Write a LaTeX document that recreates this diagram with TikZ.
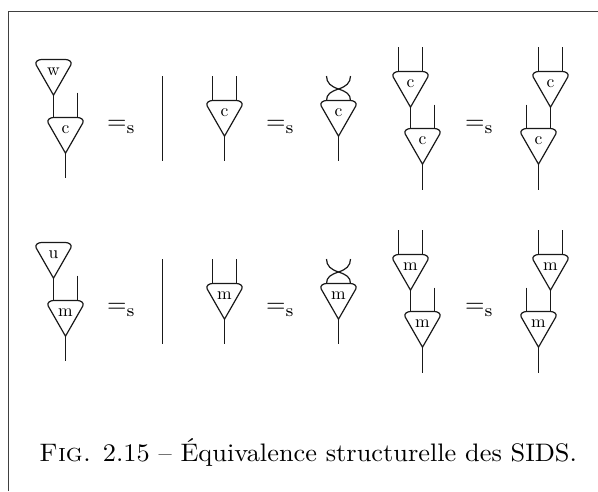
\documentclass[tikz,border=0pt]{standalone}
\tikzset{
  wire/.style={line width=1.2pt,black!90},
  framel/.style={line width=1pt,black!75},
  gate/.pic={
    \draw[wire] (-12,0) -- (12,0) .. controls (15,0) and (19,2) .. (17.3,5.5)
      -- (0,35.7) -- (-17.3,5.5) .. controls (-19,2) and (-15,0) .. cycle;
    \coordinate (-l) at (-12,0);
    \coordinate (-r) at (12,0);
    \coordinate (-o) at (0,35.7);
    \node[lab] (-t) at (0,16) {#1};
  },
  lab/.style={anchor=base,inner sep=0pt,scale=1.75},
  eqs/.style={anchor=base west,inner sep=0pt,scale=2.5},
  captext/.style={anchor=base west,inner sep=0pt,xscale=2.635,yscale=2.53}
}
\newcommand{\rowgates}[3]{%
  \begin{scope}[yshift=#3]
  % unit on multiplication
  \pic (#1a) at (53.5,59.5) {gate=#2};
  \pic (#1b) at (65.5,117.5) {gate=#1};
  \coordinate (#1bx) at (77.5,92.5);
  \coordinate (#1bo) at (65.5,177.5);
  \draw[wire] (#1a-o) -- (#1b-l);
  \draw[wire] (#1bx) -- (#1b-r);
  \draw[wire] (#1b-o) -- (#1bo);
  \node[eqs] (#1e1) at (106.6,129.3) {$=_{\mathrm{s}}$};
  % bar
  \coordinate (#1bt) at (162.5,76);
  \coordinate (#1bb) at (162.5,161);
  \draw[wire] (#1bt) -- (#1bb);
  % commutativity
  \pic (#1c) at (224.5,100.5) {gate=#1};
  \coordinate (#1cl) at (212.5,76);
  \coordinate (#1cr) at (236.5,76);
  \coordinate (#1co) at (224.5,161);
  \draw[wire] (#1cl) -- (#1c-l);
  \draw[wire] (#1cr) -- (#1c-r);
  \draw[wire] (#1c-o) -- (#1co);
  \node[eqs] (#1e2) at (265.6,129.3) {$=_{\mathrm{s}}$};
  \pic (#1d) at (338.5,100.5) {gate=#1};
  \coordinate (#1dl) at (326.5,76);
  \coordinate (#1dr) at (350.5,76);
  \coordinate (#1do) at (338.5,161);
  \draw[wire] (#1dl) .. controls (326.5,83) and (331,86.5) .. (338.5,89)
     .. controls (346,91.5) and (350.5,94) .. (#1d-r);
  \draw[wire] (#1dr) .. controls (350.5,83) and (346,86.5) .. (338.5,89)
     .. controls (331,91.5) and (326.5,94) .. (#1d-l);
  \draw[wire] (#1d-o) -- (#1do);
  % associativity, left
  \pic (#1f) at (410.5,71.5) {gate=#1};
  \pic (#1g) at (422.5,128.5) {gate=#1};
  \coordinate (#1fl) at (398.5,47);
  \coordinate (#1fr) at (422.5,47);
  \coordinate (#1gr) at (434.5,104.5);
  \coordinate (#1go) at (422.5,190);
  \draw[wire] (#1fl) -- (#1f-l);
  \draw[wire] (#1fr) -- (#1f-r);
  \draw[wire] (#1f-o) -- (#1g-l);
  \draw[wire] (#1gr) -- (#1g-r);
  \draw[wire] (#1g-o) -- (#1go);
  \node[eqs] (#1e3) at (464.6,129.3) {$=_{\mathrm{s}}$};
  % associativity, right
  \pic (#1h) at (550.5,71.5) {gate=#1};
  \pic (#1i) at (538.5,128.5) {gate=#1};
  \coordinate (#1hl) at (538.5,47);
  \coordinate (#1hr) at (562.5,47);
  \coordinate (#1il) at (526.5,104.5);
  \coordinate (#1io) at (538.5,190);
  \draw[wire] (#1hl) -- (#1h-l);
  \draw[wire] (#1hr) -- (#1h-r);
  \draw[wire] (#1h-o) -- (#1i-r);
  \draw[wire] (#1il) -- (#1i-l);
  \draw[wire] (#1i-o) -- (#1io);
  \end{scope}
}
\begin{document}
\begin{tikzpicture}[x=1pt,y=-1pt]
  \useasboundingbox (0,0) rectangle (598,491);
  \coordinate (fa) at (8.5,491);
  \coordinate (fb) at (8.5,11.5);
  \coordinate (fc) at (598,11.5);
  \draw[framel] (fa) -- (fb) -- (fc);
  \rowgates{c}{w}{0pt}
  \rowgates{m}{u}{-183pt}
  \node[captext] (caption) at (38.7,461) {\textsc{Fig.} 2.15 -- Équivalence structurelle des SIDS.};
\end{tikzpicture}
\end{document}
